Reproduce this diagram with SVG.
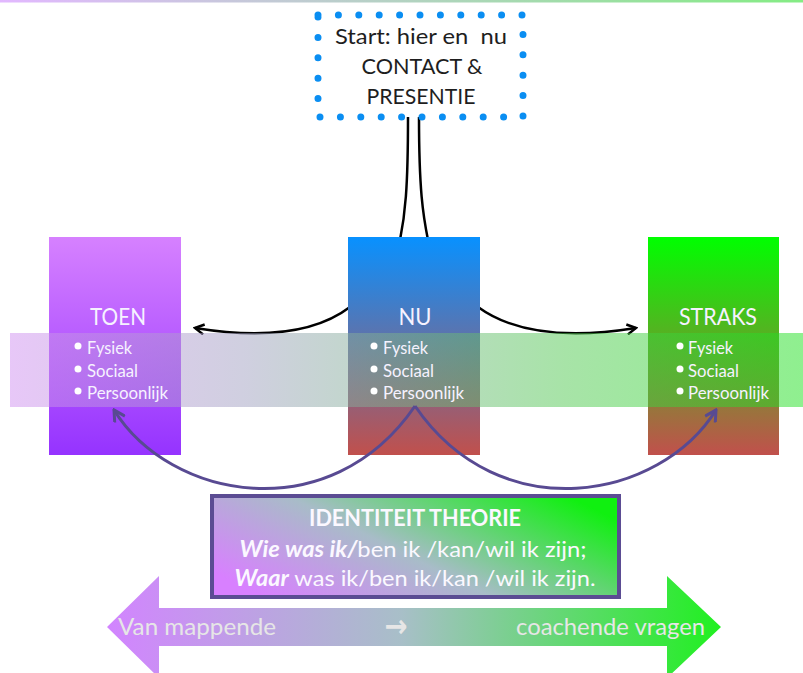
<svg xmlns="http://www.w3.org/2000/svg" width="803" height="673" viewBox="0 0 803 673">
<style>
.lbl{font-family:Lato,"Open Sans","Liberation Sans",sans-serif;fill:#f6f2ff}
.ttl{font-size:23px}
.bul{font-size:17px}
.start{font-family:Lato,"Open Sans","Liberation Sans",sans-serif;font-size:21px;fill:#1e1e1e;white-space:pre}
.idt{font-family:Lato,"Open Sans","Liberation Sans",sans-serif;fill:#fbf8ff;font-size:22px}
.arr{font-family:Lato,"Open Sans","Liberation Sans",sans-serif;fill:#e6e6e6;font-size:24px}
.blk{fill:none;stroke:#000;stroke-width:2.5}
.pur{fill:none;stroke:#584a92;stroke-width:3}
</style>
<defs>
<linearGradient id="gTop" x1="0" y1="0" x2="1" y2="0"><stop offset="0" stop-color="#e2b8ff"/><stop offset="1" stop-color="#84ec84"/></linearGradient>
<linearGradient id="gToen" x1="0" y1="0" x2="0" y2="1"><stop offset="0" stop-color="#d681ff"/><stop offset="1" stop-color="#9533ff"/></linearGradient>
<linearGradient id="gNu" x1="0" y1="0" x2="0" y2="1"><stop offset="0" stop-color="#0891ff"/><stop offset="1" stop-color="#c1504c"/></linearGradient>
<linearGradient id="gStraks" x1="0" y1="0" x2="0" y2="1"><stop offset="0" stop-color="#00ff00"/><stop offset="1" stop-color="#c1504c"/></linearGradient>
<linearGradient id="gBand" x1="0" y1="0" x2="1" y2="0"><stop offset="0" stop-color="#d090f0"/><stop offset="0.3" stop-color="#a0a0c0"/><stop offset="0.7" stop-color="#50c850"/><stop offset="1" stop-color="#20e020"/></linearGradient>
<linearGradient id="gId" x1="0" y1="0.75" x2="1" y2="0.25"><stop offset="0" stop-color="#d880ff"/><stop offset="0.45" stop-color="#a8bcc8"/><stop offset="1" stop-color="#10f010"/></linearGradient>
<linearGradient id="gArr" x1="0" y1="0" x2="1" y2="0"><stop offset="0" stop-color="#d284ff"/><stop offset="0.48" stop-color="#a8bfc8"/><stop offset="1" stop-color="#20f020"/></linearGradient>
<marker id="mBlk" viewBox="0 0 12 12" refX="10" refY="6" markerWidth="12" markerHeight="12" markerUnits="userSpaceOnUse" orient="auto"><path d="M1,1 L10,6 L1,11" fill="none" stroke="#000" stroke-width="2.5"/></marker>
<marker id="mPur" viewBox="0 0 14 14" refX="12" refY="7" markerWidth="14" markerHeight="14" markerUnits="userSpaceOnUse" orient="auto"><path d="M1,1 L12,7 L1,13" fill="none" stroke="#584a92" stroke-width="3"/></marker>
</defs>
<rect x="0" y="0" width="803" height="673" fill="#fff"/>
<rect x="0" y="0" width="803" height="2.5" fill="url(#gTop)"/>

<g id="connectors-black">
<path class="blk" d="M408,117 C408,190 405,215 400,240"/>
<path class="blk" d="M419,117 C419,190 423,215 428,240"/>
<path class="blk" d="M350,307 Q300,345 195,328" marker-end="url(#mBlk)"/>
<path class="blk" d="M478,307 Q530,345 636,328" marker-end="url(#mBlk)"/>
</g>

<g id="start">
<rect x="318" y="15" width="205" height="102" fill="none" stroke="#0a8ef2" stroke-width="7" stroke-linecap="round" stroke-dasharray="0 20.4"/>
<text class="start" x="421" y="44" text-anchor="middle" textLength="172" lengthAdjust="spacingAndGlyphs" xml:space="preserve">Start: hier en  nu</text>
<text class="start" x="422" y="74" text-anchor="middle" textLength="121" lengthAdjust="spacingAndGlyphs">CONTACT &amp;</text>
<text class="start" x="421" y="104" text-anchor="middle" textLength="109" lengthAdjust="spacingAndGlyphs">PRESENTIE</text>
</g>

<g id="toen-box"><rect x="49" y="237" width="132" height="218" fill="url(#gToen)"/></g>
<g id="nu-box"><rect x="348" y="237" width="132" height="218" fill="url(#gNu)"/></g>
<g id="straks-box"><rect x="648" y="237" width="131" height="218" fill="url(#gStraks)"/></g>

<g id="band"><rect x="10" y="333" width="793" height="74" fill="url(#gBand)" fill-opacity="0.5"/></g>

<g id="toen">
<text class="lbl ttl" x="118" y="325" text-anchor="middle" textLength="56" lengthAdjust="spacingAndGlyphs">TOEN</text>
<circle cx="78" cy="346" r="3.5" fill="#fff"/><circle cx="78" cy="369" r="3.5" fill="#fff"/><circle cx="78" cy="391" r="3.5" fill="#fff"/>
<text class="lbl bul" x="87" y="354" textLength="45" lengthAdjust="spacingAndGlyphs">Fysiek</text>
<text class="lbl bul" x="87" y="377" textLength="51" lengthAdjust="spacingAndGlyphs">Sociaal</text>
<text class="lbl bul" x="87" y="399" textLength="81" lengthAdjust="spacingAndGlyphs">Persoonlijk</text>
</g>
<g id="nu">
<text class="lbl ttl" x="415" y="325" text-anchor="middle" textLength="33" lengthAdjust="spacingAndGlyphs">NU</text>
<circle cx="374" cy="346" r="3.5" fill="#fff"/><circle cx="374" cy="369" r="3.5" fill="#fff"/><circle cx="374" cy="391" r="3.5" fill="#fff"/>
<text class="lbl bul" x="383" y="354" textLength="45" lengthAdjust="spacingAndGlyphs">Fysiek</text>
<text class="lbl bul" x="383" y="377" textLength="51" lengthAdjust="spacingAndGlyphs">Sociaal</text>
<text class="lbl bul" x="383" y="399" textLength="81" lengthAdjust="spacingAndGlyphs">Persoonlijk</text>
</g>
<g id="straks">
<text class="lbl ttl" x="718" y="325" text-anchor="middle" textLength="78" lengthAdjust="spacingAndGlyphs">STRAKS</text>
<circle cx="680" cy="346" r="3.5" fill="#fff"/><circle cx="680" cy="369" r="3.5" fill="#fff"/><circle cx="680" cy="391" r="3.5" fill="#fff"/>
<text class="lbl bul" x="688" y="354" textLength="45" lengthAdjust="spacingAndGlyphs">Fysiek</text>
<text class="lbl bul" x="688" y="377" textLength="51" lengthAdjust="spacingAndGlyphs">Sociaal</text>
<text class="lbl bul" x="688" y="399" textLength="81" lengthAdjust="spacingAndGlyphs">Persoonlijk</text>
</g>

<g id="connectors-purple">
<path class="pur" d="M415,406 C330,530 170,500 114,410" marker-end="url(#mPur)"/>
<path class="pur" d="M415,406 C500,530 660,500 716,410" marker-end="url(#mPur)"/>
</g>

<g id="identiteit">
<rect x="212" y="496" width="407" height="101" fill="url(#gId)" stroke="#5b4c93" stroke-width="4"/>
<text class="idt" x="415" y="526" text-anchor="middle" font-weight="bold" textLength="212" lengthAdjust="spacingAndGlyphs">IDENTITEIT THEORIE</text>
<text class="idt" x="413" y="557" text-anchor="middle" textLength="347" lengthAdjust="spacingAndGlyphs"><tspan font-weight="bold" font-style="italic">Wie was ik/</tspan>ben ik /kan/wil ik zijn;</text>
<text class="idt" x="415" y="586" text-anchor="middle" textLength="361" lengthAdjust="spacingAndGlyphs"><tspan font-weight="bold" font-style="italic">Waar</tspan> was ik/ben ik/kan /wil ik zijn.</text>
</g>

<g id="range-arrow">
<polygon points="107,627 159,576 159,608 667,608 667,576 721,627 667,678 667,646 159,646 159,678" fill="url(#gArr)"/>
<text class="arr" x="118" y="635" textLength="158" lengthAdjust="spacingAndGlyphs">Van mappende</text>
<text x="396" y="637" text-anchor="middle" font-family="'DejaVu Sans',sans-serif" font-weight="bold" font-size="32" fill="#e6e6e6" textLength="23" lengthAdjust="spacingAndGlyphs">→</text>
<text class="arr" x="705" y="635" text-anchor="end" textLength="189" lengthAdjust="spacingAndGlyphs">coachende vragen</text>
</g>
</svg>
